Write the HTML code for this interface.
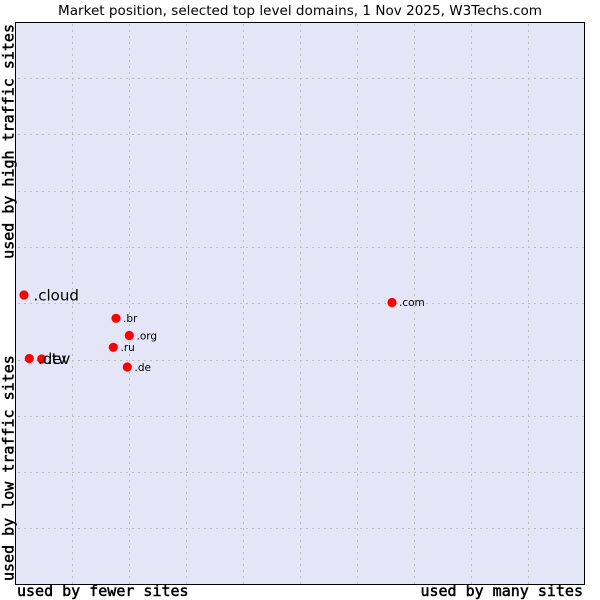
<!DOCTYPE html>
<html>
<head>
<meta charset="utf-8">
<style>
html,body{margin:0;padding:0;background:#fff;}
svg{display:block;}
</style>
</head>
<body>
<svg width="600" height="600" xmlns="http://www.w3.org/2000/svg">
  <rect x="0" y="0" width="600" height="600" fill="#fff"/>
  <text x="58" y="15" font-family="DejaVu Sans, Liberation Sans, sans-serif" font-size="13" textLength="484" lengthAdjust="spacingAndGlyphs" fill="#000">Market position, selected top level domains, 1 Nov 2025, W3Techs.com</text>
  <rect x="15.5" y="22.5" width="569" height="562" fill="#e5e5f8" stroke="none"/>
  <g stroke="#bdbdbd" stroke-width="1" stroke-dasharray="2,4">
    <line x1="72.5" y1="24" x2="72.5" y2="585"/>
    <line x1="129.5" y1="24" x2="129.5" y2="585"/>
    <line x1="186.5" y1="24" x2="186.5" y2="585"/>
    <line x1="243.5" y1="24" x2="243.5" y2="585"/>
    <line x1="300.5" y1="24" x2="300.5" y2="585"/>
    <line x1="357.5" y1="24" x2="357.5" y2="585"/>
    <line x1="414.5" y1="24" x2="414.5" y2="585"/>
    <line x1="471.5" y1="24" x2="471.5" y2="585"/>
    <line x1="528.5" y1="24" x2="528.5" y2="585"/>
    <line x1="18" y1="78.5" x2="585" y2="78.5"/>
    <line x1="18" y1="134.5" x2="585" y2="134.5"/>
    <line x1="18" y1="191.5" x2="585" y2="191.5"/>
    <line x1="18" y1="247.5" x2="585" y2="247.5"/>
    <line x1="18" y1="303.5" x2="585" y2="303.5"/>
    <line x1="18" y1="360.5" x2="585" y2="360.5"/>
    <line x1="18" y1="416.5" x2="585" y2="416.5"/>
    <line x1="18" y1="472.5" x2="585" y2="472.5"/>
    <line x1="18" y1="528.5" x2="585" y2="528.5"/>
  </g>
  <rect x="15.5" y="22.5" width="569" height="562" fill="none" stroke="#000" stroke-width="1"/>

  <g fill="#ff0000">
    <circle cx="24" cy="295" r="4.6"/>
    <circle cx="116" cy="318.3" r="4.6"/>
    <circle cx="129.3" cy="335.5" r="4.6"/>
    <circle cx="113.3" cy="347.3" r="4.6"/>
    <circle cx="392" cy="302.5" r="4.6"/>
    <circle cx="127.3" cy="367" r="4.6"/>
    <circle cx="29.3" cy="358.5" r="4.6"/>
    <circle cx="41.7" cy="359" r="4.6"/>
  </g>
  <g font-family="DejaVu Sans, Liberation Sans, sans-serif" fill="#000">
    <text x="33.5" y="300.5" font-size="15">.cloud</text>
    <text x="123" y="322" font-size="10.5">.br</text>
    <text x="136.5" y="339.5" font-size="10.5">.org</text>
    <text x="120.5" y="351" font-size="10.5">.ru</text>
    <text x="399" y="306" font-size="10.5">.com</text>
    <text x="134.5" y="371" font-size="10.5">.de</text>
    <text x="38" y="364" font-size="15">.dev</text>
    <text x="47" y="364" font-size="15">.tv</text>
  </g>

  <g font-family="DejaVu Sans Mono, Liberation Mono, monospace" font-size="15" fill="#000" stroke="#000" stroke-width="0.5">
    <text x="17" y="596">used by fewer sites</text>
    <text x="583" y="596" text-anchor="end">used by many sites</text>
    <text transform="translate(13.5,24) rotate(-90)" text-anchor="end">used by high traffic sites</text>
    <text transform="translate(13.5,581) rotate(-90)" text-anchor="start">used by low traffic sites</text>
  </g>
</svg>
</body>
</html>
